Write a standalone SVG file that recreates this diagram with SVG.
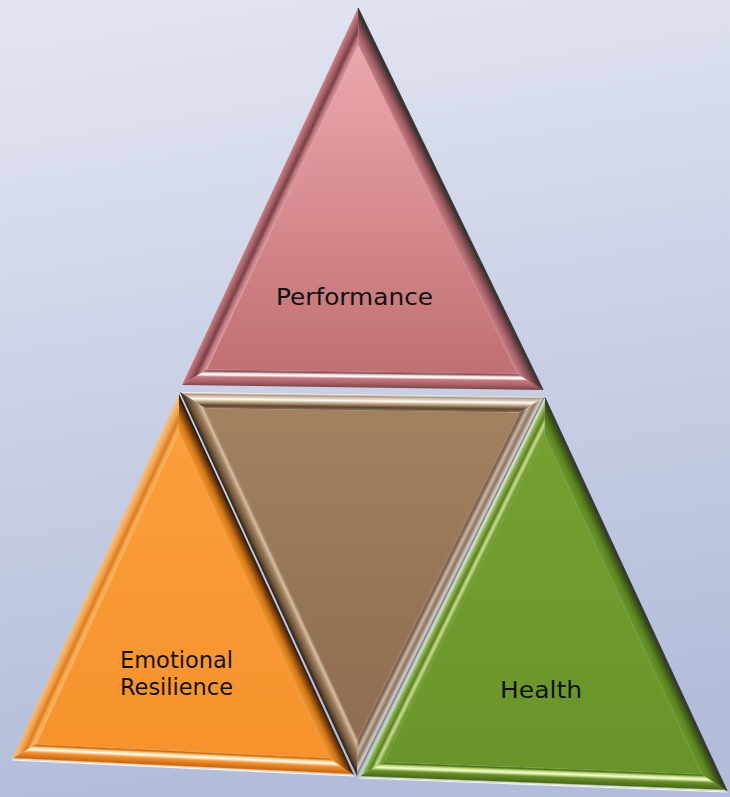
<svg xmlns="http://www.w3.org/2000/svg" width="730" height="797" viewBox="0 0 730 797">
<defs>
<style>
.lbl{font-family:"DejaVu Sans","Liberation Sans",sans-serif;font-size:23px;fill:#111;}
.edge{fill:none;stroke-width:1.2;}
</style>
<linearGradient id="bg" x1="0" y1="0" x2="0.15" y2="1">
<stop offset="0" stop-color="#e3e6f2"/><stop offset="1" stop-color="#b3bdda"/>
</linearGradient>
<linearGradient id="pinkMain" x1="0" y1="0" x2="0" y2="1">
<stop offset="0" stop-color="#eca8ad"/><stop offset="1" stop-color="#c06f72"/>
</linearGradient>
<linearGradient id="brownMain" x1="0" y1="0" x2="0" y2="1">
<stop offset="0" stop-color="#a2815f"/><stop offset="1" stop-color="#8e6d51"/>
</linearGradient>
<linearGradient id="orangeMain" x1="0" y1="0" x2="0" y2="1">
<stop offset="0" stop-color="#fa9f3b"/><stop offset="1" stop-color="#f7922c"/>
</linearGradient>
<linearGradient id="greenMain" x1="0" y1="0" x2="0" y2="1">
<stop offset="0" stop-color="#74a030"/><stop offset="1" stop-color="#6a942a"/>
</linearGradient>

<linearGradient id="pL" gradientUnits="userSpaceOnUse" x1="270" y1="196.5" x2="284.5" y2="203.3">
<stop offset="0" stop-color="#c98088"/><stop offset="0.3" stop-color="#a45e66"/><stop offset="0.55" stop-color="#7a4046"/><stop offset="0.78" stop-color="#c07880"/><stop offset="1" stop-color="#dc989e"/>
</linearGradient>
<linearGradient id="pB" gradientUnits="userSpaceOnUse" x1="362.5" y1="387.5" x2="362.7" y2="371.5">
<stop offset="0" stop-color="#7e4548"/><stop offset="0.25" stop-color="#a86066"/><stop offset="0.55" stop-color="#c57a80"/><stop offset="0.68" stop-color="#ffffff"/><stop offset="0.78" stop-color="#f4dede"/><stop offset="0.9" stop-color="#8c5256"/><stop offset="1" stop-color="#b86c70"/>
</linearGradient>
<linearGradient id="pR" gradientUnits="userSpaceOnUse" x1="450.5" y1="199" x2="436.1" y2="206">
<stop offset="0" stop-color="#2e2a2a"/><stop offset="0.15" stop-color="#4e3436"/><stop offset="0.55" stop-color="#9c5a60"/><stop offset="1" stop-color="#cc8088"/>
</linearGradient>

<linearGradient id="mT" gradientUnits="userSpaceOnUse" x1="362.5" y1="394.5" x2="362.3" y2="410.5">
<stop offset="0" stop-color="#fbf4ec"/><stop offset="0.12" stop-color="#b09a84"/><stop offset="0.4" stop-color="#fffcf4"/><stop offset="0.55" stop-color="#c8b090"/><stop offset="0.8" stop-color="#5c4430"/><stop offset="1" stop-color="#937255"/>
</linearGradient>
<linearGradient id="mR" gradientUnits="userSpaceOnUse" x1="451" y1="586.5" x2="436.7" y2="579.4">
<stop offset="0" stop-color="#6a6a6a"/><stop offset="0.15" stop-color="#d8d0c8"/><stop offset="0.4" stop-color="#8a7560"/><stop offset="0.65" stop-color="#c8b8a8"/><stop offset="0.85" stop-color="#7a6048"/><stop offset="1" stop-color="#9a7a5c"/>
</linearGradient>
<linearGradient id="mL" gradientUnits="userSpaceOnUse" x1="268.5" y1="584" x2="283" y2="577.3">
<stop offset="0" stop-color="#2a2018"/><stop offset="0.25" stop-color="#6a5038"/><stop offset="0.6" stop-color="#a08060"/><stop offset="0.85" stop-color="#d8c0a0"/><stop offset="1" stop-color="#9a7a5c"/>
</linearGradient>

<linearGradient id="oL" gradientUnits="userSpaceOnUse" x1="95.5" y1="576.5" x2="110" y2="583.2">
<stop offset="0" stop-color="#f4c080"/><stop offset="0.3" stop-color="#f2a858"/><stop offset="0.6" stop-color="#dc7c1c"/><stop offset="0.8" stop-color="#f8a850"/><stop offset="1" stop-color="#fab060"/>
</linearGradient>
<linearGradient id="oB" gradientUnits="userSpaceOnUse" x1="183" y1="767" x2="183.75" y2="751">
<stop offset="0" stop-color="#fff0d8"/><stop offset="0.1" stop-color="#c86810"/><stop offset="0.45" stop-color="#f09030"/><stop offset="0.65" stop-color="#fffbe8"/><stop offset="0.78" stop-color="#ffd090"/><stop offset="0.92" stop-color="#c86a10"/><stop offset="1" stop-color="#f7972f"/>
</linearGradient>
<linearGradient id="oR" gradientUnits="userSpaceOnUse" x1="266.5" y1="584.5" x2="252" y2="591.2">
<stop offset="0" stop-color="#2a1808"/><stop offset="0.25" stop-color="#7a3c08"/><stop offset="0.6" stop-color="#d07818"/><stop offset="1" stop-color="#f7972f"/>
</linearGradient>

<linearGradient id="gL" gradientUnits="userSpaceOnUse" x1="452" y1="587.5" x2="466.4" y2="594.6">
<stop offset="0" stop-color="#e0e8d0"/><stop offset="0.2" stop-color="#8ab050"/><stop offset="0.45" stop-color="#5a8020"/><stop offset="0.65" stop-color="#c8e090"/><stop offset="0.85" stop-color="#78a038"/><stop offset="1" stop-color="#6e982c"/>
</linearGradient>
<linearGradient id="gB" gradientUnits="userSpaceOnUse" x1="543" y1="784" x2="543.6" y2="768">
<stop offset="0" stop-color="#f8fff0"/><stop offset="0.1" stop-color="#4a6a18"/><stop offset="0.45" stop-color="#6a9028"/><stop offset="0.65" stop-color="#f4ffd0"/><stop offset="0.78" stop-color="#c8e080"/><stop offset="0.92" stop-color="#4a7018"/><stop offset="1" stop-color="#6e982c"/>
</linearGradient>
<linearGradient id="gR" gradientUnits="userSpaceOnUse" x1="636" y1="594.5" x2="621.5" y2="601.2">
<stop offset="0" stop-color="#303030"/><stop offset="0.2" stop-color="#3a5018"/><stop offset="0.6" stop-color="#5a8420"/><stop offset="1" stop-color="#6e982c"/>
</linearGradient>
</defs>

<rect x="0" y="0" width="730" height="797" fill="url(#bg)"/>

<g id="performance">
<polygon points="358.3,45.2 206.9,369.4 517.4,373.7" fill="url(#pinkMain)"/>
<polygon points="358,8 182,385 206.9,369.4 358.3,45.2" fill="url(#pL)"/>
<polygon points="182,385 543,390 517.4,373.7 206.9,369.4" fill="url(#pB)"/>
<polygon points="543,390 358,8 358.3,45.2 517.4,373.7" fill="url(#pR)"/>
<polyline class="edge" points="358,8 543,390" stroke="#3a3a3a"/>
<text class="lbl" x="276" y="305" textLength="157" lengthAdjust="spacingAndGlyphs">Performance</text>
</g>

<g id="center">
<polygon points="205.1,408.3 519.4,412.6 357.5,739" fill="url(#brownMain)"/>
<polygon points="180,392 545,397 519.4,412.6 205.1,408.3" fill="url(#mT)"/>
<polygon points="545,397 357,776 357.5,739 519.4,412.6" fill="url(#mR)"/>
<polygon points="357,776 180,392 205.1,408.3 357.5,739" fill="url(#mL)"/>
</g>

<g id="emotional-resilience">
<polygon points="179,432.4 36.4,744.1 328.5,757.8" fill="url(#orangeMain)"/>
<polygon points="179,394 12,759 36.4,744.1 179,432.4" fill="url(#oL)"/>
<polygon points="12,759 354,775 328.5,757.8 36.4,744.1" fill="url(#oB)"/>
<polygon points="354,775 179,394 179,432.4 328.5,757.8" fill="url(#oR)"/>
<polyline class="edge" points="12,760 354,776" stroke="#fff6e8"/>
<text class="lbl" x="120" y="668" textLength="113" lengthAdjust="spacingAndGlyphs">Emotional</text>
<text class="lbl" x="120" y="695" textLength="113" lengthAdjust="spacingAndGlyphs">Resilience</text>
</g>

<g id="health">
<polygon points="544.6,435.2 384.3,761.9 701.5,774" fill="url(#greenMain)"/>
<polygon points="545,398 359,777 384.3,761.9 544.6,435.2" fill="url(#gL)"/>
<polygon points="359,777 727,791 701.5,774 384.3,761.9" fill="url(#gB)"/>
<polygon points="727,791 545,398 544.6,435.2 701.5,774" fill="url(#gR)"/>
<polyline class="edge" points="359,778 727,792" stroke="#f4f8ee"/>
<polyline class="edge" points="545,398 727,791" stroke="#3a3a3a"/>
<text class="lbl" x="500" y="698" textLength="82" lengthAdjust="spacingAndGlyphs">Health</text>
</g>
</svg>
